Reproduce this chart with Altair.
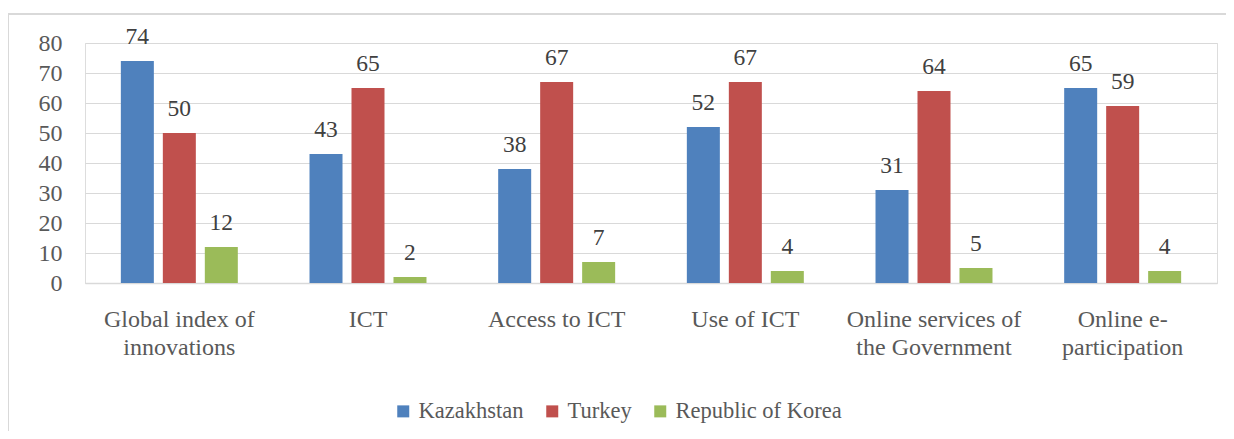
import altair as alt
import pandas as pd

categories = ["Global index of\ninnovations", "ICT", "Access to ICT", "Use of ICT",
              "Online services of\nthe Government", "Online e-\nparticipation"]
series = ["Kazakhstan", "Turkey", "Republic of Korea"]
kazakhstan = [74, 43, 38, 52, 31, 65]
turkey = [50, 65, 67, 67, 64, 59]
korea = [12, 2, 7, 4, 5, 4]
y_ticks = [0, 10, 20, 30, 40, 50, 60, 70, 80]
colors = ["#4f81bd", "#c0504d", "#9bbb59"]

rows = []
for i, c in enumerate(categories):
    for s, vals in zip(series, [kazakhstan, turkey, korea]):
        rows.append({"category": c, "series": s, "value": vals[i]})
df = pd.DataFrame(rows)

FONT = "Liberation Serif"

x = alt.X("category:N", sort=categories, title=None,
          scale=alt.Scale(paddingInner=0.38, paddingOuter=0.19),
          axis=alt.Axis(labelExpr="split(datum.value, '\\n')", labelAngle=0,
                        labelPadding=24, labelLineHeight=28.5, ticks=False,
                        domain=True, domainColor="#d9d9d9", domainWidth=1.5,
                        labelBaseline="top", labelOverlap=False, grid=False,
                        labelLimit=300))
xoff = alt.XOffset("series:N", sort=series,
                   scale=alt.Scale(paddingInner=0.214, paddingOuter=0))
y = alt.Y("value:Q", title=None,
          scale=alt.Scale(domain=[0, 80]),
          axis=alt.Axis(values=y_ticks, labelPadding=23, ticks=False, domain=False,
                        labelOverlap=False, labelBaseline="middle",
                        gridColor="#d9d9d9", gridWidth=1.2))

base = alt.Chart(df)

bars = base.mark_bar().encode(
    x=x, xOffset=xoff, y=y,
    color=alt.Color("series:N", sort=series,
                    scale=alt.Scale(domain=series, range=colors),
                    legend=alt.Legend(title=None, orient="none", direction="horizontal",
                                      legendX=307, legendY=357,
                                      symbolType="square", symbolSize=144,
                                      symbolStrokeWidth=0, labelLimit=400,
                                      labelOffset=4, columnPadding=17)),
)

labels = base.mark_text(baseline="alphabetic", dy=-17).encode(
    x=x, xOffset=xoff, y=y,
    text=alt.Text("value:Q"),
)

frame_df = pd.DataFrame({"f": [0]})
frame_top = alt.Chart(frame_df).mark_rule(
    stroke="#d9d9d9", strokeWidth=2, clip=False).encode(
    x=alt.value(-77), x2=alt.value(1200), y=alt.value(-29))
frame_left = alt.Chart(frame_df).mark_rule(
    stroke="#d9d9d9", strokeWidth=2, clip=False).encode(
    x=alt.value(-77), y=alt.value(-29), y2=alt.value(500))

chart = alt.layer(frame_top, frame_left, bars, labels).properties(
    width=1132, height=240,
    autosize=alt.AutoSizeParams(type="none"),
    padding={"left": 77, "top": 35, "right": 9, "bottom": 148},
).configure_view(stroke=None).configure(
    background="white", font=FONT
).configure_axis(
    labelFont=FONT, labelFontSize=24, labelColor="#595959"
).configure_legend(
    labelFont=FONT, labelFontSize=22.5, labelColor="#595959"
).configure_text(
    font=FONT, fontSize=23.5, color="#404040"
)

chart.save("out.html", embed_options={"renderer": "svg", "actions": False})
